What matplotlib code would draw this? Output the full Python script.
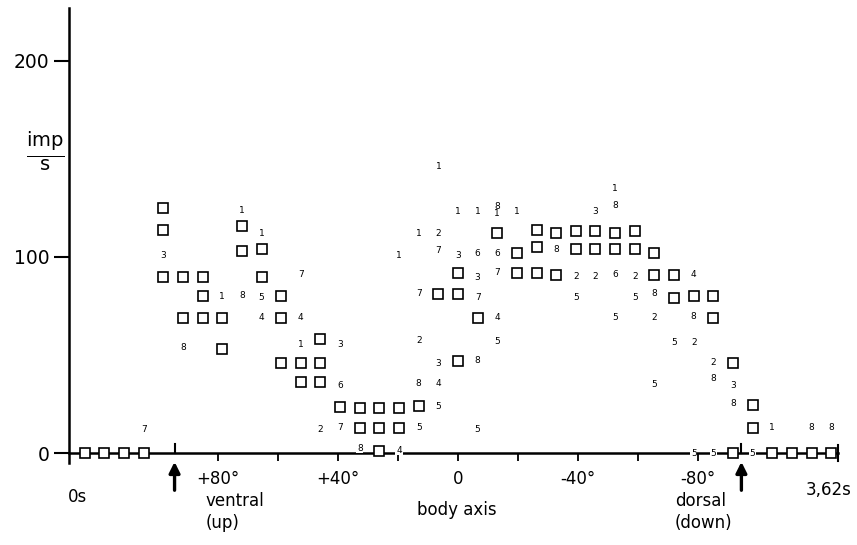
import numpy as np
import matplotlib
matplotlib.use("Agg")
import matplotlib.pyplot as plt

plt.rcParams["font.family"] = ["DejaVu Sans"]

# 39 time bins over the 3.62 s rotation, bin 19 sits on the body axis
N_BINS = 39
AXIS_BIN = 19
BIN_DEG = 6.55          # rotation per bin, degrees

# open squares (bin index, imp/s)
sq_bin = [0, 1, 2, 3,
          4, 4, 4, 5, 5, 6, 6, 6, 7, 7, 8, 8, 9, 9,
          10, 10, 10, 11, 11, 12, 12, 12, 13, 14, 14, 15, 15, 15, 16, 16,
          17, 18, 19, 19, 19, 20, 21, 22, 22, 23, 23, 23, 24, 24,
          25, 25, 26, 26, 27, 27, 28, 28, 29, 29, 30, 30, 31, 32, 32,
          33, 33, 34, 34, 35, 36, 37, 38]
sq_val = [0, 0, 0, 0,
          125, 114, 90, 90, 69, 90, 80, 69, 69, 53, 116, 103, 104, 90,
          80, 69, 46, 46, 36, 58, 46, 36, 23.5, 23, 13, 23, 13, 1, 23, 13,
          24, 81, 92, 81, 47, 69, 112, 102, 92, 114, 105, 92, 112, 91,
          113, 104, 113, 104, 112, 104, 113, 104, 102, 91, 91, 79, 80, 80, 69,
          46, 0, 24.5, 13, 0, 0, 0, 0]

# single-trial values labelled with the trial number
num_bin = [3, 4, 5, 7, 8, 8, 9, 9, 9, 11, 11, 11, 12, 13, 13, 13, 14,
           16, 16, 17, 17, 17, 17, 17, 18, 18, 18, 18, 18, 18, 19, 19,
           20, 20, 20, 20, 20, 20, 21, 21, 21, 21, 21, 21, 22, 24, 25, 25,
           26, 26, 27, 27, 27, 27, 28, 28, 29, 29, 29, 30,
           31, 31, 31, 31, 32, 32, 32, 33, 33, 34, 35, 37, 38]
num_val = [12, 101, 54, 80, 123.5, 80.5, 112, 79.5, 69, 91, 69, 55.5, 12, 55.5, 34.5, 13, 2.5,
           100.5, 1.5, 112, 81.5, 57.5, 35.5, 13, 146, 112, 103.5, 45.5, 35.5, 23.5, 123, 101,
           123, 102, 89.5, 79.5, 47, 12, 126, 122, 102, 92, 69, 57, 123, 104, 90, 79.5,
           123, 90, 135, 126.5, 91, 69, 90, 79.5, 81.5, 69, 35, 56.5,
           91, 69.5, 56.5, 0, 46, 38, 0, 34.5, 25.5, 0, 13, 13, 13]
num_lbl = ["7", "3", "8", "1", "1", "8", "1", "5", "4", "7", "4", "1", "2", "3", "6", "7", "8",
           "1", "4", "1", "7", "2", "8", "5", "1", "2", "7", "3", "4", "5", "1", "3",
           "1", "6", "3", "7", "8", "5", "8", "1", "6", "7", "4", "5", "1", "8", "2", "5",
           "3", "2", "1", "8", "6", "5", "2", "5", "8", "2", "5", "5",
           "4", "8", "2", "5", "2", "8", "5", "3", "8", "5", "1", "8", "8"]

deg_ticks = [80, 40, 0, -40, -80]
deg_labels = ["+80°", "+40°", "0", "-40°", "-80°"]
minor_deg = [60, 20, -20, -60]
turn_deg = [94.5, -94.5]     # ventral up / dorsal down


def bin_to_deg(b):
    return (AXIS_BIN - np.asarray(b)) * BIN_DEG


fig = plt.figure(figsize=(8.57, 5.45), dpi=100, facecolor="white")
ax = fig.add_axes([0.0805, 0.1508, 0.8973, 0.8345])

ax.set_xlim(129.7, -126.7)
ax.set_ylim(-5, 227)

for s in ("top", "right"):
    ax.spines[s].set_visible(False)
ax.spines["left"].set_linewidth(1.8)
ax.spines["bottom"].set_linewidth(1.8)
ax.spines["bottom"].set_position(("data", 0))

ax.set_yticks([0, 100, 200])
ax.set_yticklabels(["0", "100", "200"], fontsize=13.5)
ax.tick_params(axis="y", direction="out", length=11, width=1.5, pad=3)

ax.set_xticks(deg_ticks)
ax.set_xticklabels(deg_labels, fontsize=12)
ax.set_xticks(minor_deg, minor=True)
ax.tick_params(axis="x", which="both", direction="out", length=6, width=1.3, pad=6)

# squares and trial numbers
ax.plot(bin_to_deg(sq_bin), sq_val, ls="none", marker="s", ms=7.3,
        mfc="white", mec="black", mew=1.2, clip_on=False, zorder=4)
for b, v, t in zip(num_bin, num_val, num_lbl):
    bbox = dict(fc="white", ec="none", pad=0.6) if v < 5 else None
    ax.text(bin_to_deg(b), v, t, fontsize=6.5, ha="center", va="center",
            bbox=bbox, zorder=5, clip_on=False)

# end of sweep bar and turn-point ticks
ax.plot([ax.get_xlim()[1]] * 2, [-4, 4], color="black", lw=1.5, clip_on=False)
for d in turn_deg:
    ax.plot([d, d], [0, 4.5], color="black", lw=1.5, clip_on=False)
    ax.annotate("", xy=(d, -4.5), xytext=(d, -19), annotation_clip=False,
                arrowprops=dict(arrowstyle="-|>", lw=2.4, color="black",
                                mutation_scale=16, shrinkA=0, shrinkB=0))

fig.text(0.0525, 0.722, r"$\frac{\mathrm{imp}}{\mathrm{s}}$", fontsize=20,
         ha="center", va="center")

tk = dict(fontsize=12, va="center", clip_on=False)
ax.text(130, -22.5, "0s", ha="left", **tk)
ax.text(-131.3, -19, "3,62s", ha="right", **tk)
ax.text(84.3, -24.5, "ventral", ha="left", **tk)
ax.text(84.3, -35.5, "(up)", ha="left", **tk)
ax.text(0.3, -29, "body axis", ha="center", **tk)
ax.text(-72.3, -24.5, "dorsal", ha="left", **tk)
ax.text(-72.3, -35.5, "(down)", ha="left", **tk)

fig.savefig("out.png", dpi=100, facecolor="white")
